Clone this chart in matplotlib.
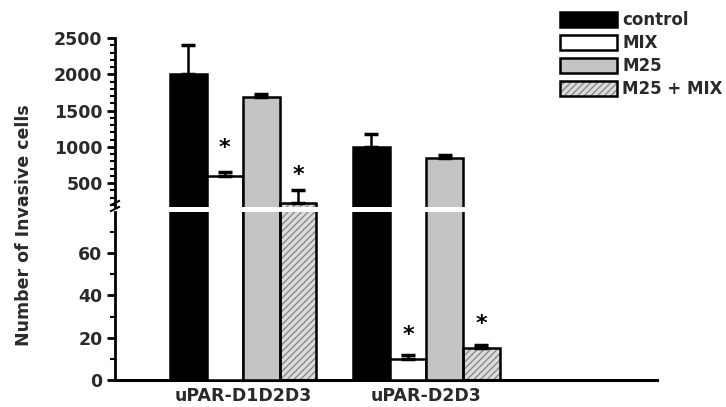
import matplotlib
matplotlib.use("Agg")
import matplotlib.pyplot as plt
from matplotlib.patches import Patch
from matplotlib.lines import Line2D
import numpy as np

plt.rcParams['font.family'] = ['DejaVu Sans']
plt.rcParams['font.weight'] = 'bold'
plt.rcParams['hatch.linewidth'] = 1.0

groups = ["uPAR-D1D2D3", "uPAR-D2D3"]
series = ["control", "MIX", "M25", "M25 + MIX"]
values = {
    "control":   [2000, 1000],
    "MIX":       [600, 10],
    "M25":       [1680, 850],
    "M25 + MIX": [230, 15],
}
errors = {
    "control":   [410, 170],
    "MIX":       [55, 2],
    "M25":       [50, 40],
    "M25 + MIX": [170, 1.5],
}
# significance stars: (series, group index, y position of star, panel)
stars = [("MIX", 0, 990, "upper"), ("M25 + MIX", 0, 610, "upper"),
         ("MIX", 1, 21.5, "lower"), ("M25 + MIX", 1, 26.5, "lower")]

upper_ticks = [500, 1000, 1500, 2000, 2500]
lower_ticks = [0, 20, 40, 60]

styles = {
    "control":   dict(facecolor="black", hatch=None),
    "MIX":       dict(facecolor="white", hatch=None),
    "M25":       dict(facecolor="#c4c4c4", hatch=None),
    "M25 + MIX": dict(facecolor="#dcdcdc", hatch="/////"),
}

TXT = "#2a2a2a"
W, H = 726, 407
fig = plt.figure(figsize=(W / 100, H / 100), dpi=100)
left, right = 115 / W, 657 / W
ax_up = fig.add_axes([left, 1 - 207 / H, right - left, (207 - 38) / H])
ax_lo = fig.add_axes([left, 1 - 380 / H, right - left, (380 - 212) / H])

group_centers = np.array([0.0, 5.0])
offsets = np.array([-1.5, -0.5, 0.5, 1.5])
bw = 1.0
edge_lw = 1.8

for ax in (ax_up, ax_lo):
    for i, s in enumerate(series):
        xs = group_centers + offsets[i]
        st = styles[s]
        if st["hatch"]:
            ax.bar(xs, values[s], width=bw, color=st["facecolor"], hatch=st["hatch"],
                   edgecolor="#8a8a8a", linewidth=0, zorder=2)
            ax.bar(xs, values[s], width=bw, fill=False, edgecolor="black",
                   linewidth=edge_lw, zorder=3)
        else:
            ax.bar(xs, values[s], width=bw, color=st["facecolor"],
                   edgecolor="black", linewidth=edge_lw, zorder=3)
        ax.errorbar(xs, values[s], yerr=[np.zeros(len(xs)), errors[s]], fmt="none",
                    ecolor="black", elinewidth=1.8, capsize=5, capthick=2.5, zorder=4)
    ax.set_xlim(-3.5, 11.3)
    for sp in ("top", "right"):
        ax.spines[sp].set_visible(False)
    ax.spines["left"].set_linewidth(2)
    ax.tick_params(axis="y", which="major", length=6, width=2, labelsize=12.5,
                   pad=3, labelcolor=TXT)
    ax.tick_params(axis="y", which="minor", length=3.5, width=1.5)

for s, gi, y, which in stars:
    ax = ax_up if which == "upper" else ax_lo
    x = group_centers[gi] + offsets[series.index(s)]
    ax.text(x, y, "*", ha="center", va="center", fontsize=16, fontweight="bold")

ax_up.set_ylim(170, 2500)
ax_up.set_yticks(upper_ticks)
ax_up.set_yticks(np.arange(200, 2501, 100), minor=True)
ax_up.spines["bottom"].set_visible(False)
ax_up.set_xticks([])

ax_lo.set_ylim(0, 79.4)
ax_lo.set_yticks(lower_ticks)
ax_lo.set_yticks(np.arange(0, 80, 10), minor=True)
ax_lo.spines["bottom"].set_linewidth(2.2)
ax_lo.set_xticks(group_centers)
ax_lo.set_xticklabels(groups, fontsize=12.5, color=TXT)
ax_lo.tick_params(axis="x", length=0, pad=5)

# break marks on the y axis
for yb in (203, 209):
    fig.add_artist(Line2D([(left * W - 4) / W, (left * W + 4) / W],
                          [1 - (yb + 2) / H, 1 - (yb - 2) / H],
                          color="black", lw=1.5, transform=fig.transFigure))

fig.text(24 / W, 1 - 225 / H, "Number of Invasive cells", rotation=90,
         ha="center", va="center", fontsize=12.5, color=TXT)

handles = []
for s in series:
    st = styles[s]
    if st["hatch"]:
        handles.append((Patch(facecolor=st["facecolor"], hatch=st["hatch"],
                              edgecolor="#8a8a8a", linewidth=0),
                        Patch(fill=False, edgecolor="black", linewidth=edge_lw)))
    else:
        handles.append(Patch(facecolor=st["facecolor"], edgecolor="black",
                             linewidth=edge_lw))
fs = 12
px = fs * 100 / 72
fig.legend(handles, series, loc="upper left", bbox_to_anchor=(560 / W, 1 - 11 / H),
           frameon=False, borderpad=0, borderaxespad=0, fontsize=fs,
           handlelength=57 / px, handleheight=16 / px, labelspacing=0.3,
           handletextpad=0.3, labelcolor=TXT)

fig.savefig("out.png", dpi=100)
